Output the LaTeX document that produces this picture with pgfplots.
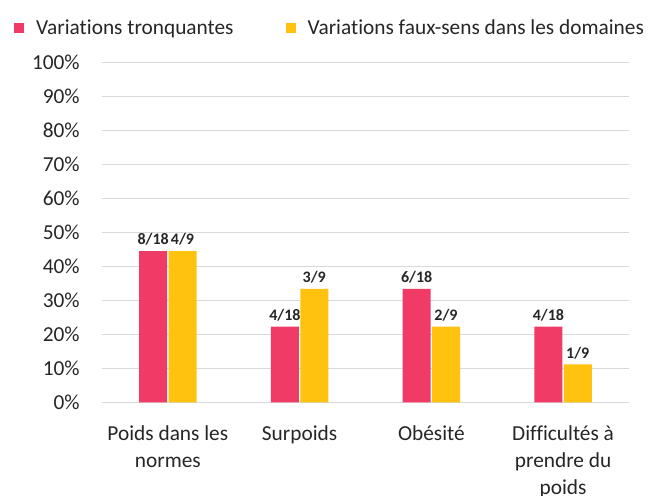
\documentclass[border=0pt]{standalone}
\usepackage{fontspec}
\setmainfont{Carlito}[Ligatures=NoCommon]
\usepackage{pgfplots}
\pgfplotsset{compat=1.18}
\definecolor{cpink}{HTML}{EF3B65}
\definecolor{cyell}{HTML}{FFC20E}
\definecolor{cgrid}{HTML}{D9D9D9}
\definecolor{ctext}{HTML}{262626}
\begin{document}
\begin{tikzpicture}
\path[use as bounding box] (-76.5pt,-70.3pt) rectangle (411.75pt,301.7pt);
\begin{axis}[
  at={(0,0)}, anchor=south west,
  scale only axis, width=395.25pt, height=255pt,
  xmin=-0.5, xmax=3.5, ymin=0, ymax=100,
  ybar=1pt, bar width=21pt,
  axis line style={draw=none},
  major tick length=0pt,
  ymajorgrids, major grid style={cgrid, line width=1pt},
  ytick={0,10,...,100},
  yticklabel={\pgfmathparse{int(\tick)}\pgfmathresult\%},
  yticklabel style={font=\fontsize{16}{19}\selectfont, text=ctext, inner sep=0pt, xshift=-16.5pt},
  xtick={0,1,2,3},
  xticklabels={{Poids dans les\\normes},{Surpoids},{Obésité},{Difficultés à\\prendre du\\poids}},
  xticklabel style={font=\fontsize{16}{20.5}\selectfont, text=ctext, align=center, anchor=north, inner sep=0pt, yshift=-17pt},
  point meta=explicit symbolic,
  nodes near coords,
  every node near coord/.append style={font=\bfseries\fontsize{12}{14}\selectfont, text=ctext, inner sep=4pt},
  legend columns=2,
  legend style={at={(-0.1746,1.10)}, anchor=west, draw=none, fill=none,
    font=\fontsize{16}{19}\selectfont, text=ctext,
    /tikz/every even column/.append style={column sep=39pt},
    nodes={inner sep=0pt, anchor=west}},
  legend image code/.code={\fill[#1] (0pt,-3.75pt) rectangle (7.5pt,3.75pt); \path (16.5pt,0pt);},
]
\addplot[fill=cpink, draw=none] coordinates {(0,44.44)[8/18] (1,22.22)[4/18] (2,33.33)[6/18] (3,22.22)[4/18]};
\addplot[fill=cyell, draw=none] coordinates {(0,44.44)[4/9] (1,33.33)[3/9] (2,22.22)[2/9] (3,11.11)[1/9]};
\legend{Variations tronquantes, Variations faux-sens dans les domaines}
\end{axis}
\end{tikzpicture}
\end{document}
